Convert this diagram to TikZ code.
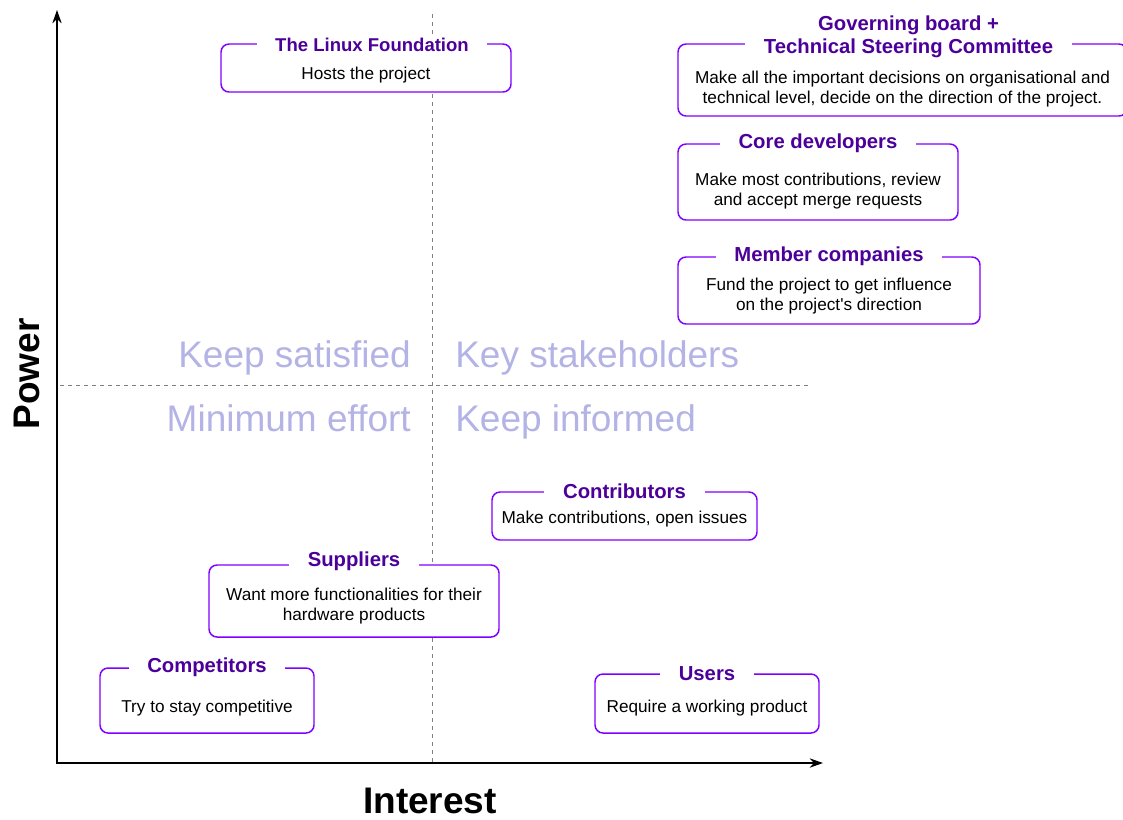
\documentclass[tikz,border=0pt]{standalone}
\usepackage{fontspec}
\setmainfont{Liberation Sans}
\usepackage{xcolor}
\usetikzlibrary{arrows.meta, positioning, calc}
\definecolor{boxline}{HTML}{7F00FF}
\definecolor{headtext}{HTML}{4C0099}
\definecolor{quadtext}{HTML}{B3B3E6}
\definecolor{gridline}{HTML}{808080}
\begin{document}
\begin{tikzpicture}[x=0.75pt, y=-0.75pt,
    stake/.style 2 args={draw=boxline, fill=white, line width=1.1pt, rounded corners=6pt,
        minimum width=#1*0.75pt, minimum height=#2*0.75pt, inner sep=0pt},
    head/.style={fill=white, text=headtext, font=\fontsize{15.2}{17.25}\selectfont\bfseries,
        align=center, inner xsep=14pt, inner ysep=1pt},
    body/.style={align=center, inner sep=0pt, font=\fontsize{12.9}{15}\selectfont},
    quad/.style={text=quadtext, inner sep=0pt, font=\fontsize{27.75}{30}\selectfont,
        text height=0.72em, text depth=0.21em},
    axislabel/.style={font=\fontsize{27.75}{30}\selectfont\bfseries, inner sep=0pt},
    grid/.style={draw=gridline, line width=0.75pt, dash pattern=on 3pt off 3pt},
    axis/.style={draw=black, line width=1.1pt, {Stealth[length=10pt, width=7pt]}-{Stealth[length=10pt, width=7pt]}}]
    \useasboundingbox (0,0) rectangle (1123,819);

    % quadrant lines
    \coordinate (vtop) at (432,14);
    \coordinate (vbot) at (432,763);
    \coordinate (hleft) at (60,385);
    \coordinate (hright) at (808,385);
    \draw[grid] (vtop) -- (vbot);
    \draw[grid] (hleft) -- (hright);

    % quadrant names
    \node[quad, anchor=east] (satisfied) at (411,364) {Keep satisfied};
    \node[quad, anchor=west] (key) at (455,364) {Key stakeholders};
    \node[quad, anchor=east] (minimum) at (411,428) {Minimum effort};
    \node[quad, anchor=west] (informed) at (455,428) {Keep informed};

    % stakeholders
    \node[stake={290}{48}] (found) at (366,68) {};
    \node[head, xshift=4.5pt, font=\fontsize{13.9}{17}\selectfont\bfseries] (foundhead) at ([yshift=-1pt]found.north) {The Linux Foundation};
    \node[body] (foundtext) at ([yshift=-5pt]found.center) {Hosts the project};

    \node[stake={449}{72}] (gov) at (902.5,80) {};
    \node[head, xshift=4.5pt, yshift=4.5pt] (govhead) at (gov.north) {Governing board +\\Technical Steering Committee};
    \node[body] (govtext) at ([yshift=-6.5pt]gov.center) {Make all the important decisions on organisational and\\technical level, decide on the direction of the project.};

    \node[stake={280}{76}] (core) at (818,182) {};
    \node[head] (corehead) at (core.north) {Core developers};
    \node[body] (coretext) at ([yshift=-6.5pt]core.center) {Make most contributions, review\\and accept merge requests};

    \node[stake={302}{67}] (member) at (829,290.5) {};
    \node[head] (memberhead) at (member.north) {Member companies};
    \node[body] (membertext) at ([yshift=-4pt]member.center) {Fund the project to get influence\\on the project\textquotesingle s direction};

    \node[stake={265}{48}] (contrib) at (624.5,516) {};
    \node[head] (contribhead) at (contrib.north) {Contributors};
    \node[body] (contribtext) at ([yshift=-2.5pt]contrib.center) {Make contributions, open issues};

    \node[stake={290}{72}] (suppl) at (354,601) {};
    \node[head] (supplhead) at ([yshift=2.5pt]suppl.north) {Suppliers};
    \node[body] (suppltext) at ([yshift=-4pt]suppl.center) {Want more functionalities for their\\hardware products};

    \node[stake={214}{65}] (compet) at (207,700.5) {};
    \node[head] (compethead) at (compet.north) {Competitors};
    \node[body] (compettext) at ([yshift=-5.5pt]compet.center) {Try to stay competitive};

    \node[stake={224}{59}] (users) at (707,703.5) {};
    \node[head] (usershead) at (users.north) {Users};
    \node[body] (userstext) at ([yshift=-3.5pt]users.center) {Require a working product};

    % axes
    \coordinate (origin) at (57,763);
    \coordinate (ytip) at (57,10);
    \coordinate (xtip) at (823,763);
    \draw[axis] (ytip) -- (origin) -- (xtip);
    \node[axislabel, rotate=90] (power) at (27,374) {Power};
    \node[axislabel] (interest) at (430,801) {Interest};
\end{tikzpicture}
\end{document}
